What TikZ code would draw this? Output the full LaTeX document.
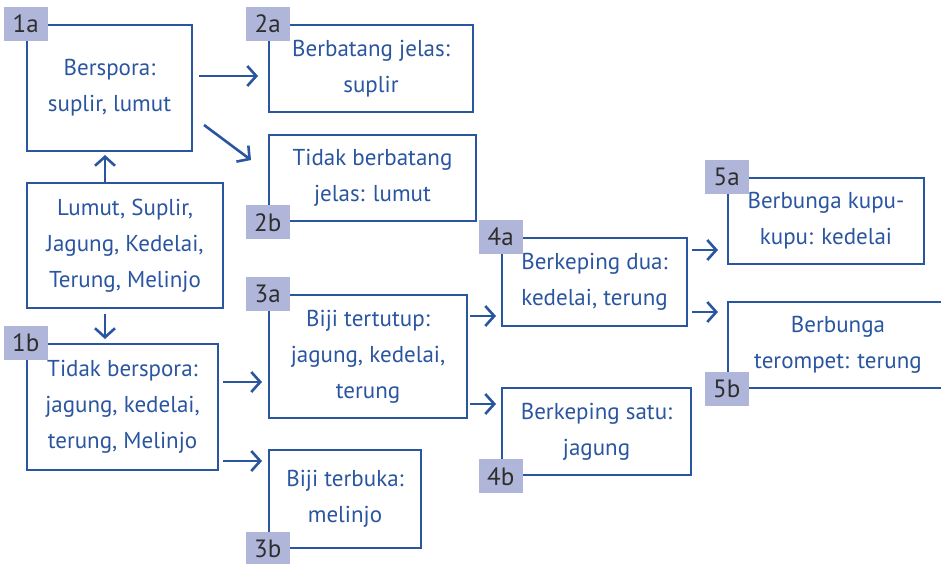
\documentclass[tikz,border=0pt]{standalone}
\usepackage{fontspec}
\setmainfont{PT Sans}
\usetikzlibrary{arrows.meta}
\definecolor{keyblue}{HTML}{2A55A0}
\definecolor{tagfill}{HTML}{B0B6DA}
\definecolor{tagtext}{HTML}{2E2E2E}
\tikzset{
  box/.style={draw=keyblue, line width=2.6pt, text=keyblue, align=center,
    inner sep=0pt, font=\fontsize{23}{36}\selectfont},
  tag/.style={fill=tagfill, text=tagtext, minimum width=44pt, minimum height=34pt,
    inner sep=0pt, font=\fontsize{25}{25}\selectfont},
  arr/.style={keyblue, line width=2.6pt, -{Straight Barb[length=9pt,width=20pt]}}
}
\begin{document}
\begin{tikzpicture}[x=1pt,y=-1pt]
\useasboundingbox (0,0) rectangle (941,564);
\clip (0,0) rectangle (941,564);

% boxes
\node[box, minimum width=165pt, minimum height=126pt] (n1a) at (109.5,88) {Berspora:\\suplir, lumut};
\node[box, minimum width=196pt, minimum height=125pt] (nall) at (125,245.5) {Lumut, Suplir,\\Jagung, Kedelai,\\Terung, Melinjo};
\node[box, minimum width=191pt, minimum height=126pt] (n1b) at (122.5,407) {Tidak berspora:\\jagung, kedelai,\\terung, Melinjo};
\node[box, minimum width=204pt, minimum height=87pt] (n2a) at (371,68.5) {Berbatang jelas:\\suplir};
\node[box, minimum width=207pt, minimum height=86pt] (n2b) at (372.5,178) {Tidak berbatang\\jelas: lumut};
\node[box, minimum width=198pt, minimum height=123pt] (n3a) at (368,356.5) {Biji tertutup:\\jagung, kedelai,\\terung};
\node[box, minimum width=152pt, minimum height=98pt] (n3b) at (345,499) {Biji terbuka:\\melinjo};
\node[box, minimum width=185pt, minimum height=88pt] (n4a) at (594.5,282) {Berkeping dua:\\kedelai, terung};
\node[box, minimum width=189pt, minimum height=87pt] (n4b) at (596.5,431.5) {Berkeping satu:\\jagung};
\node[box, minimum width=196pt, minimum height=86pt] (n5a) at (826,221) {Berbunga kupu-\\kupu: kedelai};
\node[box, minimum width=220pt, minimum height=86pt] (n5b) at (838,345) {Berbunga\\terompet: terung};

% tags
\node[tag] (t1a) at (n1a.north west) {1a};
\node[tag] (t1b) at (n1b.north west) {1b};
\node[tag] (t2a) at (n2a.north west) {2a};
\node[tag] (t2b) at (n2b.south west) {2b};
\node[tag] (t3a) at (n3a.north west) {3a};
\node[tag] (t3b) at (n3b.south west) {3b};
\node[tag] (t4a) at (n4a.north west) {4a};
\node[tag] (t4b) at (n4b.south west) {4b};
\node[tag] (t5a) at (n5a.north west) {5a};
\node[tag] (t5b) at (n5b.south west) {5b};

% arrow ends
\coordinate (p1) at (199,76);   \coordinate (q1) at (258,76);
\coordinate (p2) at (204,125);  \coordinate (q2) at (251,160);
\coordinate (p3) at (105,183);  \coordinate (q3) at (105,155);
\coordinate (p4) at (105,314);  \coordinate (q4) at (105,339);
\coordinate (p5) at (223,382);  \coordinate (q5) at (262,382);
\coordinate (p6) at (223,461);  \coordinate (q6) at (262,461);
\coordinate (p7) at (470,316);  \coordinate (q7) at (496,316);
\coordinate (p8) at (470,404);  \coordinate (q8) at (496,404);
\coordinate (p9) at (692,250);  \coordinate (q9) at (718,250);
\coordinate (p10) at (692,312); \coordinate (q10) at (718,312);

\foreach \i in {1,...,10}
  \draw[arr] (p\i) -- (q\i);
\end{tikzpicture}
\end{document}
